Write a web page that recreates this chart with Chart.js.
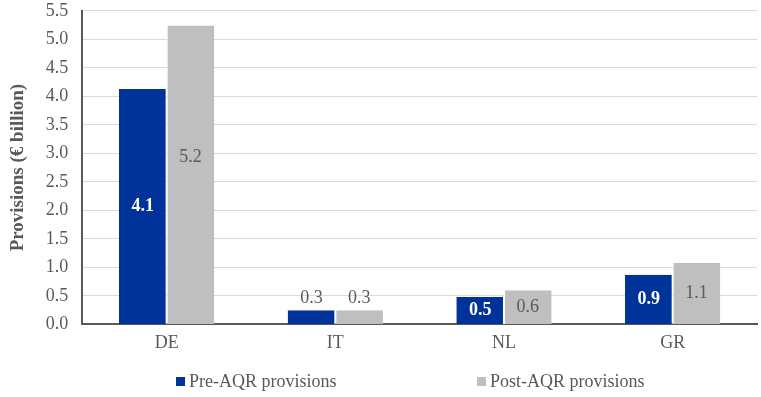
<!DOCTYPE html>
<html>
<head>
<meta charset="utf-8">
<script src="https://cdn.jsdelivr.net/npm/chart.js@4/dist/chart.umd.min.js"></script>
<style>
    html, body { margin: 0; padding: 0; background: #fff; overflow: hidden; }
    #box { width: 761px; height: 402px; margin-top: -5px; }
</style>
</head>
<body>
<div id="box"><canvas id="aqrChart"></canvas></div>
<script>
const paesi = ["DE", "IT", "NL", "GR"];
const preAQR = [4.13, 0.25, 0.48, 0.87];
const postAQR = [5.24, 0.25, 0.60, 1.08];
const etichettePre = ["4.1", "0.3", "0.5", "0.9"];
const etichettePost = ["5.2", "0.3", "0.6", "1.1"];
const nomiSerie = ["Pre-AQR provisions", "Post-AQR provisions"];
const coloriSerie = ["#003399", "#bfbfbf"];

const font = "'Liberation Serif', 'Times New Roman', serif";

// etichette dei valori dentro o sopra le barre
const etichettePlugin = {
    id: "etichette",
    afterDatasetsDraw(chart) {
        let ctx = chart.ctx;
        let testi = [etichettePre, etichettePost];
        ctx.save();
        ctx.textAlign = "center";
        ctx.textBaseline = "middle";
        chart.data.datasets.forEach((ds, i) => {
            chart.getDatasetMeta(i).data.forEach((bar, j) => {
                let alto = bar.base - bar.y;
                let y;
                if (alto < 20) {
                    y = bar.y - 12;
                    ctx.fillStyle = "#595959";
                    ctx.font = "18px " + font;
                } else {
                    y = bar.y + alto / 2;
                    ctx.fillStyle = i === 0 ? "#ffffff" : "#595959";
                    ctx.font = (i === 0 ? "bold " : "") + "18px " + font;
                    if (i === 1 && alto > 250) y = bar.y + alto * 0.44;
                }
                ctx.fillText(testi[i][j], bar.x, y);
            });
        });
        ctx.restore();
    }
};

// legenda disegnata a mano in basso
const legendaPlugin = {
    id: "legenda",
    afterDraw(chart) {
        let ctx = chart.ctx;
        let posX = [176, 477];
        let y = 387;
        ctx.save();
        ctx.font = "18px " + font;
        ctx.textBaseline = "middle";
        ctx.textAlign = "left";
        nomiSerie.forEach((nome, i) => {
            ctx.fillStyle = coloriSerie[i];
            ctx.fillRect(posX[i], y - 5, 9, 9);
            ctx.fillStyle = "#595959";
            ctx.fillText(nome, posX[i] + 13, y);
        });
        ctx.restore();
    }
};

let ctx = document.getElementById("aqrChart").getContext("2d");

new Chart(ctx, {
    type: "bar",
    data: {
        labels: paesi,
        datasets: nomiSerie.map((nome, i) => ({
            label: nome,
            data: i === 0 ? preAQR : postAQR,
            backgroundColor: coloriSerie[i],
            borderColor: "#ffffff",
            borderWidth: i === 0 ? { right: 1 } : { left: 1 },
            borderSkipped: false,
            barPercentage: 1,
            categoryPercentage: 0.565
        }))
    },
    options: {
        responsive: true,
        maintainAspectRatio: false,
        animation: false,
        layout: { autoPadding: false, padding: { left: 7, right: 4, top: 6, bottom: 35 } },
        scales: {
            x: {
                grid: { display: false, drawTicks: false },
                border: { color: "#595959", width: 2 },
                ticks: { color: "#595959", font: { family: font, size: 18 }, padding: 8 }
            },
            y: {
                min: 0,
                max: 5.5,
                grid: { color: "#d9d9d9", drawTicks: false },
                border: { color: "#595959", width: 2 },
                ticks: {
                    stepSize: 0.5,
                    autoSkip: false,
                    color: "#595959",
                    font: { family: font, size: 18, lineHeight: 0.2 },
                    padding: 14,
                    callback: v => v.toFixed(1)
                },
                title: {
                    display: true,
                    text: "Provisions (€ billion)",
                    color: "#595959",
                    font: { family: font, size: 19, weight: "bold" },
                    padding: { top: 0, bottom: 2 }
                }
            }
        },
        plugins: {
            legend: { display: false },
            tooltip: { enabled: false }
        }
    },
    plugins: [etichettePlugin, legendaPlugin]
});
</script>
</body>
</html>
